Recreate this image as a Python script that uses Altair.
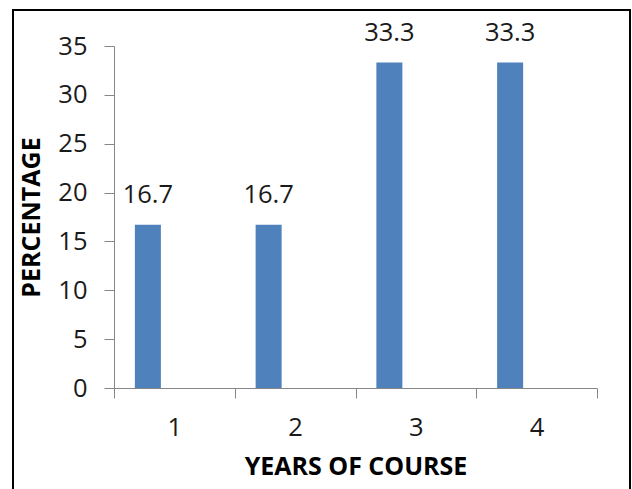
import altair as alt
import pandas as pd

# Share of respondents by year of course
years = ["1", "2", "3", "4"]
percentages = [16.7, 16.7, 33.3, 33.3]
y_ticks = [0, 5, 10, 15, 20, 25, 30, 35]

df = pd.DataFrame({"year": years, "pct": percentages})

FONT = "Open Sans"
BAR_BLUE = "#4F81BD"
AXIS_GRAY = "#868686"
TEXT_DARK = "#1a1a1a"
LABEL_SIZE = 25.5
TITLE_SIZE = 25
BAR_SHIFT = -26.5  # bars sit left of the band centre

x_enc = alt.X(
    "year:O",
    sort=years,
    scale=alt.Scale(paddingInner=0, paddingOuter=0),
    axis=alt.Axis(
        title="YEARS OF COURSE",
        labelAngle=0,
        tickBand="extent",
        tickSize=10,
        labelPadding=17,
        labelFont=FONT,
        labelFontSize=LABEL_SIZE,
        labelColor=TEXT_DARK,
        titleFont=FONT,
        titleFontSize=TITLE_SIZE,
        titleFontWeight="bold",
        titleColor="#000000",
        titleBaseline="alphabetic",
        titleY=86,
        domainColor=AXIS_GRAY,
        tickColor=AXIS_GRAY,
    ),
)

y_enc = alt.Y(
    "pct:Q",
    scale=alt.Scale(domain=[0, 35], nice=False),
    axis=alt.Axis(
        values=y_ticks,
        title="PERCENTAGE",
        grid=False,
        tickSize=10,
        labelPadding=17,
        labelFont=FONT,
        labelFontSize=LABEL_SIZE,
        labelColor=TEXT_DARK,
        titleFont=FONT,
        titleFontSize=TITLE_SIZE,
        titleFontWeight="bold",
        titleColor="#000000",
        titleAngle=-90,
        titleAlign="center",
        titleBaseline="alphabetic",
        titleX=-75,
        titleY=171,
        domainColor=AXIS_GRAY,
        tickColor=AXIS_GRAY,
    ),
)

base = alt.Chart(df)

bars = base.mark_bar(size=26, xOffset=BAR_SHIFT, color=BAR_BLUE).encode(x=x_enc, y=y_enc)

labels = base.mark_text(
    xOffset=BAR_SHIFT,
    dy=-21.5,
    baseline="alphabetic",
    font=FONT,
    fontSize=LABEL_SIZE,
    color=TEXT_DARK,
).encode(x=x_enc, y=y_enc, text=alt.Text("pct:Q", format=".1f"))

# Black outline framing the whole figure
frame = alt.Chart(alt.Data(values=[{}])).mark_rect(
    filled=False, stroke="#000000", strokeWidth=2
).encode(
    x=alt.value(-101),
    x2=alt.value(516),
    y=alt.value(-36),
    y2=alt.value(470),
)

chart = (
    alt.layer(bars, labels, frame)
    .properties(
        width=483,
        height=342,
        padding={"left": 114, "top": 46, "right": 35, "bottom": 101},
        autosize=alt.AutoSizeParams(type="none"),
        background="#ffffff",
    )
    .configure_view(strokeWidth=0)
)

chart.save("out.html", embed_options={"renderer": "svg", "actions": False})
